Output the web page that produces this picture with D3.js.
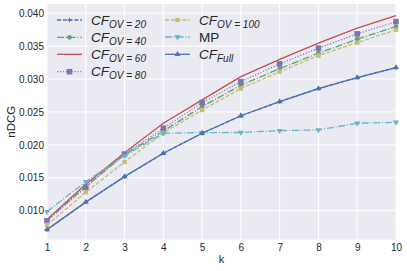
<!DOCTYPE html>
<html>
<head>
<meta charset="utf-8">
<script src="https://cdn.jsdelivr.net/npm/d3@7"></script>
<style>
  body { margin: 0; background: #fff; }
  svg text { font-family: "Liberation Sans", Arial, sans-serif; fill: #262626; }
</style>
</head>
<body>
<div id="chart"></div>
<script>
const ks = [1, 2, 3, 4, 5, 6, 7, 8, 9, 10];
const cfOv20  = [0.00712, 0.01130, 0.01517, 0.01873, 0.02176, 0.02442, 0.02657, 0.02855, 0.03022, 0.03173];
const cfOv40  = [0.00852, 0.01370, 0.01850, 0.02210, 0.02582, 0.02905, 0.03158, 0.03393, 0.03605, 0.03797];
const cfOv60  = [0.00865, 0.01400, 0.01880, 0.02329, 0.02683, 0.03037, 0.03300, 0.03545, 0.03772, 0.03964];
const cfOv80  = [0.00846, 0.01356, 0.01860, 0.02252, 0.02643, 0.02960, 0.03230, 0.03470, 0.03686, 0.03873];
const cfOv100 = [0.00783, 0.01280, 0.01740, 0.02180, 0.02530, 0.02855, 0.03113, 0.03356, 0.03554, 0.03747];
const mp      = [0.00985, 0.01441, 0.01833, 0.02176, 0.02186, 0.02188, 0.02216, 0.02227, 0.02328, 0.02343];
const cfFull  = [0.00712, 0.01130, 0.01517, 0.01873, 0.02176, 0.02442, 0.02657, 0.02855, 0.03022, 0.03173];
const yTicks = [0.010, 0.015, 0.020, 0.025, 0.030, 0.035, 0.040];

const w = 407, h = 271;
const padL = 47, padR = 396, padT = 4, padB = 239.5;

const series = [
  { name: "CF", sub: "OV = 20",  vals: cfOv20,  color: "#4C72B0", dash: "4,1.8", marker: "plus" },
  { name: "CF", sub: "OV = 40",  vals: cfOv40,  color: "#55A868", dash: "7,1.8,1.1,1.8", marker: "circle" },
  { name: "CF", sub: "OV = 60",  vals: cfOv60,  color: "#C44E52", dash: null, marker: null },
  { name: "CF", sub: "OV = 80",  vals: cfOv80,  color: "#8172B2", dash: "1.1,1.8", marker: "square" },
  { name: "CF", sub: "OV = 100", vals: cfOv100, color: "#CCB974", dash: "4,1.8", marker: "smallsquare" },
  { name: "MP", sub: null,       vals: mp,      color: "#64B5CD", dash: "7,1.8,1.1,1.8", marker: "tridown" },
  { name: "CF", sub: "Full",     vals: cfFull,  color: "#4C72B0", dash: null, marker: "triup" }
];

const x = d3.scaleLinear().domain([1, 10]).range([padL, padR]);
const y = d3.scaleLinear().domain([0.00562, 0.0414]).range([padB, padT]);

const svg = d3.select("#chart").append("svg")
  .attr("width", w).attr("height", h);

svg.append("rect")
  .attr("x", padL).attr("y", padT)
  .attr("width", padR - padL).attr("height", padB - padT)
  .attr("fill", "#EAEAF2");

// grid
svg.append("g").selectAll("line").data(ks).enter().append("line")
  .attr("x1", d => x(d)).attr("x2", d => x(d))
  .attr("y1", padT).attr("y2", padB)
  .attr("stroke", "#fff").attr("stroke-width", 1);
svg.append("g").selectAll("line").data(yTicks).enter().append("line")
  .attr("x1", padL).attr("x2", padR)
  .attr("y1", d => y(d)).attr("y2", d => y(d))
  .attr("stroke", "#fff").attr("stroke-width", 1);

// axes
const xAxis = d3.axisBottom(x).tickValues(ks).tickFormat(d3.format("d")).tickSize(0).tickPadding(4);
const yAxis = d3.axisLeft(y).tickValues(yTicks).tickFormat(d3.format(".3f")).tickSize(0).tickPadding(3);

const gx = svg.append("g").attr("transform", "translate(0," + padB + ")").call(xAxis);
const gy = svg.append("g").attr("transform", "translate(" + padL + ",0)").call(yAxis);
[gx, gy].forEach(g => {
  g.select(".domain").remove();
  g.selectAll("text").style("font-size", "10px").style("font-family", "Liberation Sans, Arial, sans-serif").attr("fill", "#262626");
});

svg.append("text")
  .text("nDCG")
  .attr("transform", "rotate(-90)")
  .attr("x", -(padT + padB) / 2)
  .attr("y", 15)
  .style("text-anchor", "middle")
  .style("font-size", "11.5px");

svg.append("text")
  .text("k")
  .attr("x", (padL + padR) / 2)
  .attr("y", 263)
  .style("text-anchor", "middle")
  .style("font-size", "11px");

function drawMarker(g, type, cx, cy, color) {
  if (!type) return;
  if (type === "circle") {
    g.append("circle").attr("cx", cx).attr("cy", cy).attr("r", 2.4).attr("fill", color);
  } else if (type === "square") {
    g.append("rect").attr("x", cx - 2.8).attr("y", cy - 2.8).attr("width", 5.6).attr("height", 5.6).attr("fill", color);
  } else if (type === "smallsquare") {
    g.append("rect").attr("x", cx - 2.2).attr("y", cy - 2.2).attr("width", 4.4).attr("height", 4.4).attr("fill", color);
  } else if (type === "triup") {
    g.append("path").attr("d", d3.symbol(d3.symbolTriangle, 15)()).attr("transform", "translate(" + cx + "," + cy + ")").attr("fill", color);
  } else if (type === "tridown") {
    g.append("path").attr("d", d3.symbol(d3.symbolTriangle, 15)()).attr("transform", "translate(" + cx + "," + cy + ") rotate(180)").attr("fill", color);
  } else if (type === "plus") {
    g.append("path").attr("d", "M" + (cx - 2.2) + "," + cy + "H" + (cx + 2.2) + "M" + cx + "," + (cy - 2.2) + "V" + (cy + 2.2))
      .attr("stroke", color).attr("stroke-width", 1);
  }
}

const line = d3.line().x((d, i) => x(ks[i])).y(d => y(d));

series.forEach(s => {
  const g = svg.append("g");
  g.append("path")
    .datum(s.vals)
    .attr("d", line)
    .attr("fill", "none")
    .attr("stroke", s.color)
    .attr("stroke-width", 1.3)
    .attr("stroke-dasharray", s.dash);
  s.vals.forEach((v, i) => drawMarker(g, s.marker, x(ks[i]), y(v), s.color));
});

// legend
const legendPos = [
  [57, 20], [57, 37.3], [57, 54.3], [57, 71.7],
  [165, 20], [165, 37], [165, 54.3]
];
series.forEach((s, i) => {
  const [lx, ly] = legendPos[i];
  const g = svg.append("g");
  g.append("line")
    .attr("x1", lx).attr("x2", lx + 25)
    .attr("y1", ly).attr("y2", ly)
    .attr("stroke", s.color).attr("stroke-width", 1.3)
    .attr("stroke-dasharray", s.dash);
  drawMarker(g, s.marker, lx + 12.5, ly, s.color);
  const t = g.append("text").attr("x", lx + 34).attr("y", ly + 4.5).style("font-size", "13.5px");
  if (s.sub) {
    t.append("tspan").text(s.name).style("font-style", "italic");
    t.append("tspan").text(s.sub).style("font-style", "italic").style("font-size", "10px").attr("dy", 3);
  } else {
    t.text(s.name);
  }
});
</script>
</body>
</html>
